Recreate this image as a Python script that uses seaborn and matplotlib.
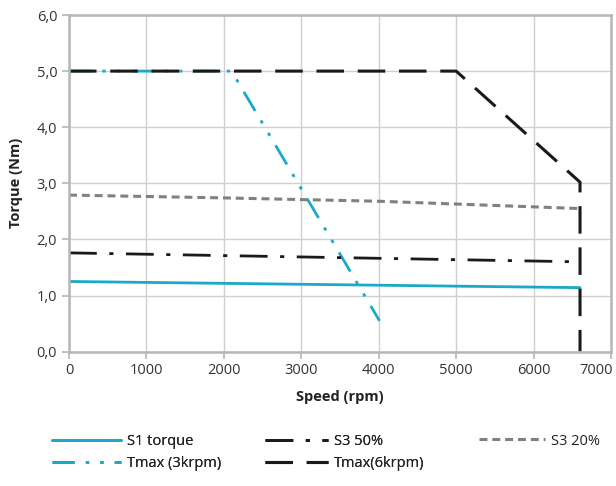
import matplotlib
matplotlib.use("Agg")
import matplotlib.pyplot as plt
import seaborn as sns
import pandas as pd
from matplotlib.ticker import FuncFormatter, MultipleLocator

# ---- data ----
s1_speed = [0, 6600]
s1_torque = [1.25, 1.14]

s3_50_speed = [0, 6600]
s3_50_torque = [1.76, 1.60]

s3_20_speed = [0, 2000, 4000, 5000, 6600]
s3_20_torque = [2.79, 2.74, 2.68, 2.63, 2.55]

tmax3_speed = [0, 2100, 4010]
tmax3_torque = [5.0, 5.0, 0.55]

tmax6_speed = [0, 5000, 6600, 6600]
tmax6_torque = [5.0, 5.0, 3.02, 0.0]

labels = ["S1 torque", "S3 50%", "S3 20%", "Tmax (3krpm)", "Tmax(6krpm)"]
x_max = 7000

sns.set_theme(style="white")
plt.rcParams['font.family'] = ['Open Sans', 'DejaVu Sans']

W, H = 616, 486
fig = plt.figure(figsize=(W / 100, H / 100), dpi=100)
ax = fig.add_axes([69 / W, 1 - 351.6 / H, (611 - 69) / W, (351.6 - 15) / H])

cyan = "#1aa9c6"
black = "#1a1a1a"
gray = "#808080"

series = [
    (s1_speed, s1_torque, labels[0], cyan, None, 2.0),
    (tmax3_speed, tmax3_torque, labels[3], cyan, (8, 4, 1.2, 4, 1.2, 4), 2.0),
    (s3_50_speed, s3_50_torque, labels[1], black, (10, 4.5, 1.5, 4.5), 2.0),
    (tmax6_speed, tmax6_torque, labels[4], black, (9, 4.5), 2.2),
    (s3_20_speed, s3_20_torque, labels[2], gray, (2.6, 1.6), 2.2),
]

handles = {}
for xs, ys, lab, col, dash, lw in series:
    df = pd.DataFrame({"speed": xs, "torque": ys})
    sns.lineplot(data=df, x="speed", y="torque", ax=ax, color=col,
                 linewidth=lw, sort=False, estimator=None, label=lab)
    line = ax.lines[-1]
    if dash is not None:
        line.set_dashes(dash)
    handles[lab] = line

ax.set_xlim(0, x_max)
ax.set_ylim(0, 6.0)
ax.xaxis.set_major_locator(MultipleLocator(1000))
ax.yaxis.set_major_locator(MultipleLocator(1.0))
ax.yaxis.set_major_formatter(FuncFormatter(lambda v, p: f"{v:.1f}".replace(".", ",")))
# last x label is drawn separately, right-aligned, so it stays inside the figure
ax.xaxis.set_major_formatter(FuncFormatter(lambda v, p: "" if v >= x_max else f"{int(v)}"))
ax.grid(True, color="#cfcfcf", linewidth=1.0)
ax.set_axisbelow(True)
for sp in ax.spines.values():
    sp.set_visible(True)
    sp.set_color("#b6b6b8")
    sp.set_linewidth(1.8)
ax.tick_params(axis="both", which="major", labelsize=10.5, labelcolor="#333333",
               color="#b6b6b8", length=5, width=1.2, direction="out",
               left=True, bottom=True)
ax.set_xlabel("Speed (rpm)", fontsize=10.5, fontweight="bold", color="#222222", labelpad=8)
ax.set_ylabel("Torque (Nm)", fontsize=10.5, fontweight="bold", color="#222222", labelpad=10)
if ax.legend_:
    ax.legend_.remove()

fig.canvas.draw()
ref_lab = ax.get_xticklabels()[0]
ax.annotate(f"{x_max}", xy=(1.0, 0.0), xycoords="axes fraction",
            xytext=(1, -ref_lab.get_position()[1] - 8.5), textcoords="offset points",
            ha="right", va="top", fontsize=10.5, color="#333333")

# legend in three columns, placed like the reference
cols = [
    (["S1 torque", "Tmax (3krpm)"], 52, 4.7),
    (["S3 50%", "Tmax(6krpm)"], 265, 4.3),
    (["S3 20%"], 479, 4.5),
]
ycenter = 1 - 452.5 / H
for i, (labs, x0, hl) in enumerate(cols):
    yc = ycenter if len(labs) == 2 else 1 - 441 / H
    leg = fig.legend(handles=[handles[l] for l in labs], labels=labs,
                     loc="center left", bbox_to_anchor=(x0 / W, yc),
                     frameon=False, fontsize=10.5, handlelength=hl,
                     handletextpad=0.45, labelspacing=0.53, borderpad=0,
                     borderaxespad=0)
    for t in leg.get_texts():
        t.set_color("#222222")
    if i < len(cols) - 1:
        fig.add_artist(leg)

fig.savefig("out.png", dpi=100)
